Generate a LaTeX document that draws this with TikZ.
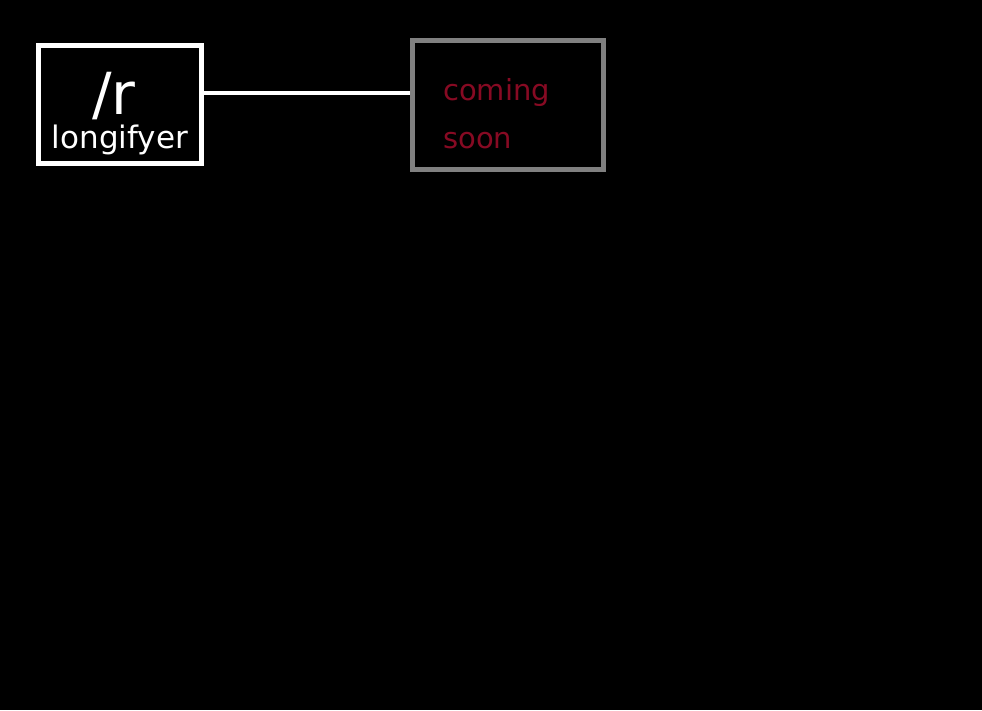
\documentclass[tikz,border=0pt]{standalone}
\usepackage{fontspec}
\setmainfont{DejaVu Sans}
\definecolor{soongray}{RGB}{128,128,128}
\definecolor{soonred}{RGB}{135,10,35}
\usepackage{tikz}
\usetikzlibrary{positioning}

\begin{document}
\begin{tikzpicture}[x=1pt, y=-1pt,
    logobox/.style={draw=white, line width=5pt, minimum width=163pt, minimum height=118pt, inner sep=0pt},
    soonbox/.style={draw=soongray, line width=5pt, minimum width=191pt, minimum height=129pt, inner sep=0pt},
    logotext/.style={text=white, inner sep=0pt, anchor=base},
    soontext/.style={text=soonred, inner sep=0pt, anchor=base west, font=\fontsize{29}{31}\selectfont}]
    % Background
    \fill[black] (0,0) rectangle (982,710);

    % Boxes
    \node[logobox] (logo) at (120,104.5) {};
    \node[soonbox] (soon) at (508,105) {};

    % Connector
    \coordinate (linestart) at ([yshift=12pt]logo.east);
    \coordinate (lineend) at (soon.west |- linestart);
    \draw[white, line width=4pt] (linestart) -- (lineend);

    % Texts
    \node[logotext, font=\fontsize{58}{60}\selectfont] (slashr) at (114,114) {/r};
    \node[logotext, font=\fontsize{31}{33}\selectfont] (name) at (120,148) {longifyer};
    \node[soontext] (coming) at (443,100) {coming};
    \node[soontext] (later) at (443,148) {soon};
\end{tikzpicture}
\end{document}
